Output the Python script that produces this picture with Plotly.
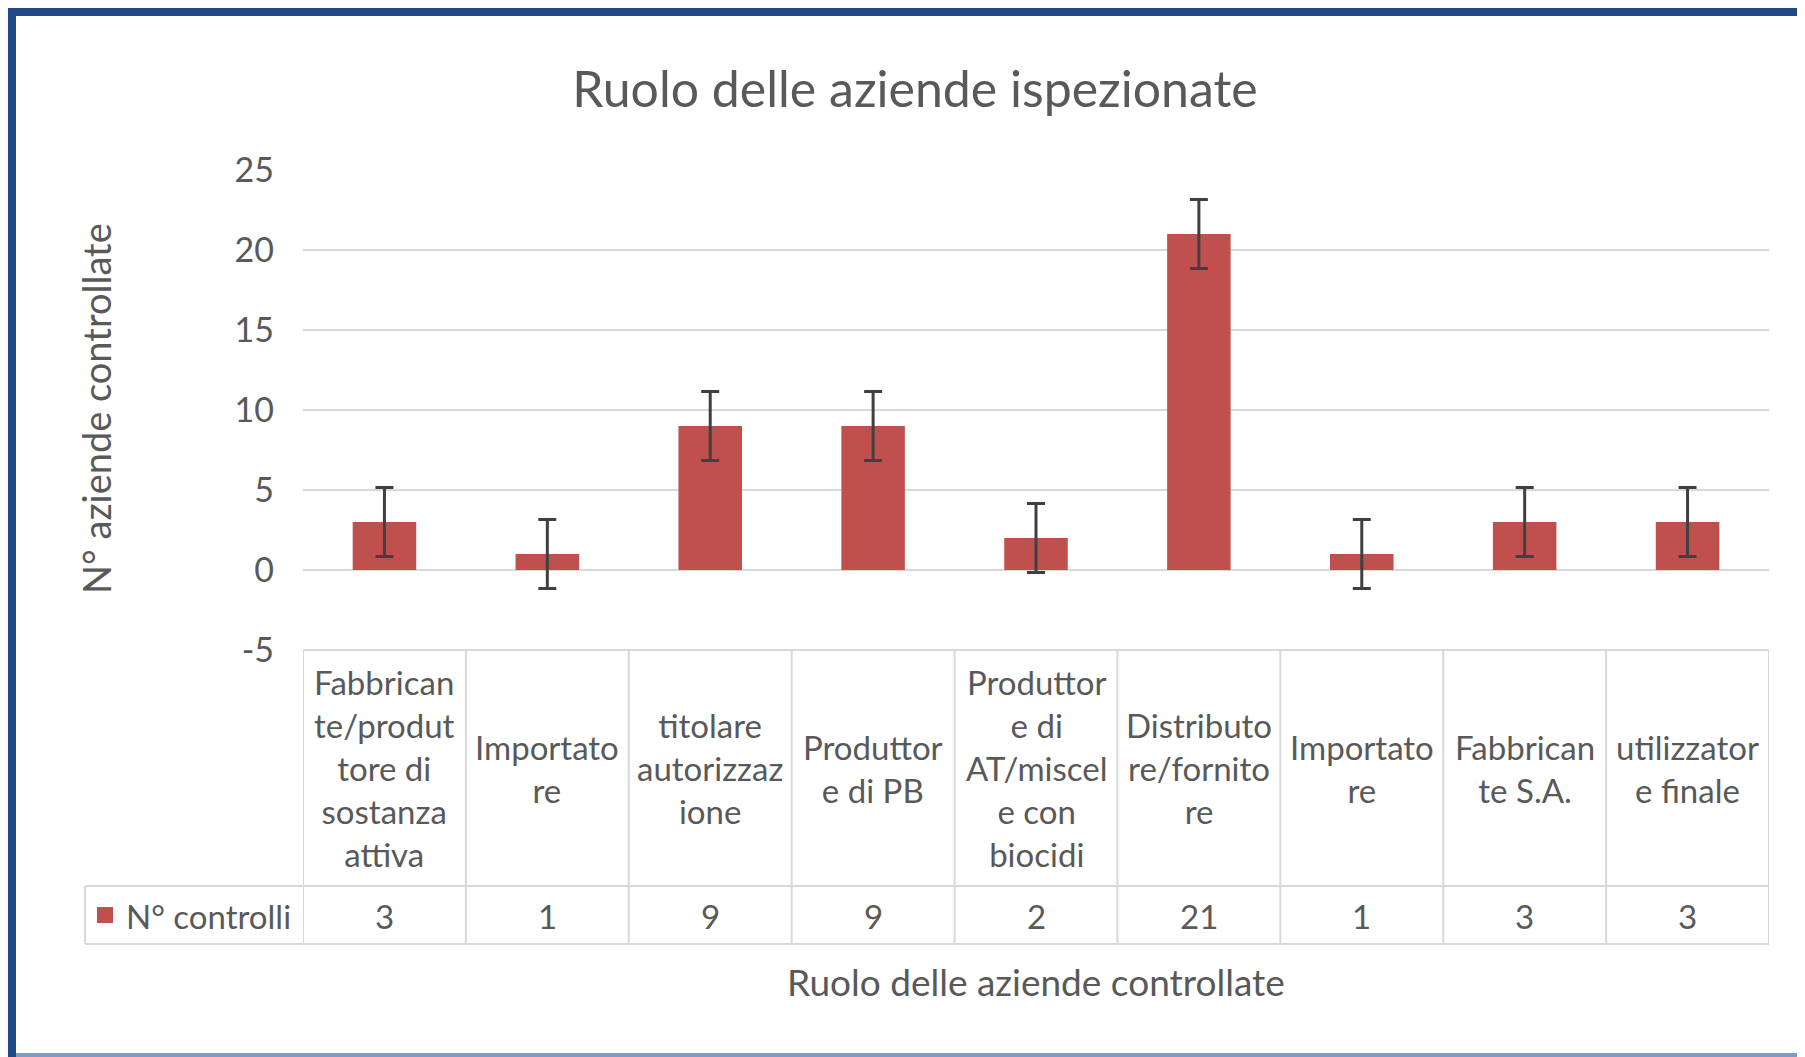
import plotly.graph_objects as go

# ---- data ----
categories = [
    "Fabbrican<br>te/produt<br>tore di<br>sostanza<br>attiva",
    "Importato<br>re",
    "titolare<br>autorizzaz<br>ione",
    "Produttor<br>e di PB",
    "Produttor<br>e di<br>AT/miscel<br>e con<br>biocidi",
    "Distributo<br>re/fornito<br>re",
    "Importato<br>re",
    "Fabbrican<br>te S.A.",
    "utilizzator<br>e finale",
]
values = [3, 1, 9, 9, 2, 21, 1, 3, 3]
error_value = 2.16
series_name = "N° controlli"
y_ticks = [-5, 0, 5, 10, 15, 20, 25]
y_tick_labels = ["-5", "0", "5", "10", "15", "20", "25"]

title = "Ruolo delle aziende ispezionate"
x_title = "Ruolo delle aziende controllate"
y_title = "N° aziende controllate"

# ---- layout geometry (page pixels; page body has an 8px margin) ----
OFF = 8
W, H = 1805 - OFF, 1057 - OFF
L, R, T, B = 303, 1769, 170, 650
PW, PH = R - L, B - T
FONT = "Lato"
TXT = "#595959"
GRID = "#D9D9D9"
BAR = "#C0504D"


def px(p):
    return (p - L) / PW


def py(p):
    return (B - p) / PH


xs = list(range(len(values)))

fig = go.Figure()
fig.add_trace(go.Bar(
    x=xs, y=values, width=0.39, marker=dict(color=BAR, line=dict(width=0)),
    error_y=dict(type="constant", value=error_value, color="#404040",
                 thickness=3, width=9),
    name=series_name, showlegend=False,
))

shapes = []
for i in range(len(values) + 1):
    shapes.append(dict(type="line", xref="x", yref="paper", x0=i - 0.5, x1=i - 0.5,
                       y0=py(650), y1=py(944), line=dict(color=GRID, width=2)))
shapes.append(dict(type="line", xref="paper", yref="paper", x0=0, x1=1,
                   y0=py(650), y1=py(650), line=dict(color=GRID, width=2)))
for yy in (886, 944):
    shapes.append(dict(type="line", xref="paper", yref="paper", x0=px(85), x1=1,
                       y0=py(yy), y1=py(yy), line=dict(color=GRID, width=2)))
shapes.append(dict(type="line", xref="paper", yref="paper", x0=px(85), x1=px(85),
                   y0=py(886), y1=py(944), line=dict(color=GRID, width=2)))
shapes.append(dict(type="rect", xref="paper", yref="paper", x0=px(97), x1=px(113),
                   y0=py(923), y1=py(907), fillcolor=BAR, line=dict(width=0)))
# outer frame
FR = "#1F4A87"
shapes.append(dict(type="rect", xref="paper", yref="paper", x0=px(OFF), x1=px(1805),
                   y0=py(OFF), y1=py(16), fillcolor=FR, line=dict(width=0)))
shapes.append(dict(type="rect", xref="paper", yref="paper", x0=px(OFF), x1=px(16),
                   y0=py(OFF), y1=py(1057), fillcolor=FR, line=dict(width=0)))
shapes.append(dict(type="rect", xref="paper", yref="paper", x0=px(16), x1=px(1805),
                   y0=py(1053), y1=py(1057), fillcolor="#7F9CC8", line=dict(width=0)))

annotations = []
for i, lab in enumerate(categories):
    annotations.append(dict(x=i, xref="x", y=py(768), yref="paper", text=lab,
                            showarrow=False, xanchor="center", yanchor="middle",
                            align="center", font=dict(family=FONT, size=33, color=TXT)))
for i, v in enumerate(values):
    annotations.append(dict(x=i, xref="x", y=py(916), yref="paper", text=str(v),
                            showarrow=False, xanchor="center", yanchor="middle",
                            font=dict(family=FONT, size=33, color=TXT)))
annotations.append(dict(x=px(124), xref="paper", y=py(916), yref="paper", text=series_name,
                        showarrow=False, xanchor="left", yanchor="middle",
                        font=dict(family=FONT, size=33, color=TXT)))
annotations.append(dict(x=0.5, xref="paper", y=py(981), yref="paper", text=x_title,
                        showarrow=False, xanchor="center", yanchor="middle",
                        font=dict(family=FONT, size=37, color=TXT)))
annotations.append(dict(x=px(96), xref="paper", y=py(409), yref="paper", text=y_title,
                        showarrow=False, xanchor="center", yanchor="middle", textangle=-90,
                        font=dict(family=FONT, size=38, color=TXT)))

fig.update_layout(
    width=W, height=H,
    margin=dict(l=L - OFF, r=W - (R - OFF), t=T - OFF, b=H - (B - OFF), pad=0),
    paper_bgcolor="white", plot_bgcolor="white",
    title=dict(text=title, x=(915 - OFF) / W, xref="container", xanchor="center",
               y=1 - (89 - OFF) / H, yref="container", yanchor="middle",
               font=dict(family=FONT, size=50, color=TXT)),
    xaxis=dict(range=[-0.5, len(values) - 0.5], showticklabels=False, showgrid=False,
               zeroline=False, showline=False, ticks=""),
    yaxis=dict(range=[-5, 25], tickvals=y_ticks, ticktext=y_tick_labels,
               showgrid=True, gridcolor=GRID, gridwidth=2,
               zeroline=False, showline=False, ticks="", ticklabelstandoff=28,
               tickfont=dict(family=FONT, size=34, color=TXT)),
    shapes=shapes, annotations=annotations, showlegend=False,
)

fig.write_html("out.html")
